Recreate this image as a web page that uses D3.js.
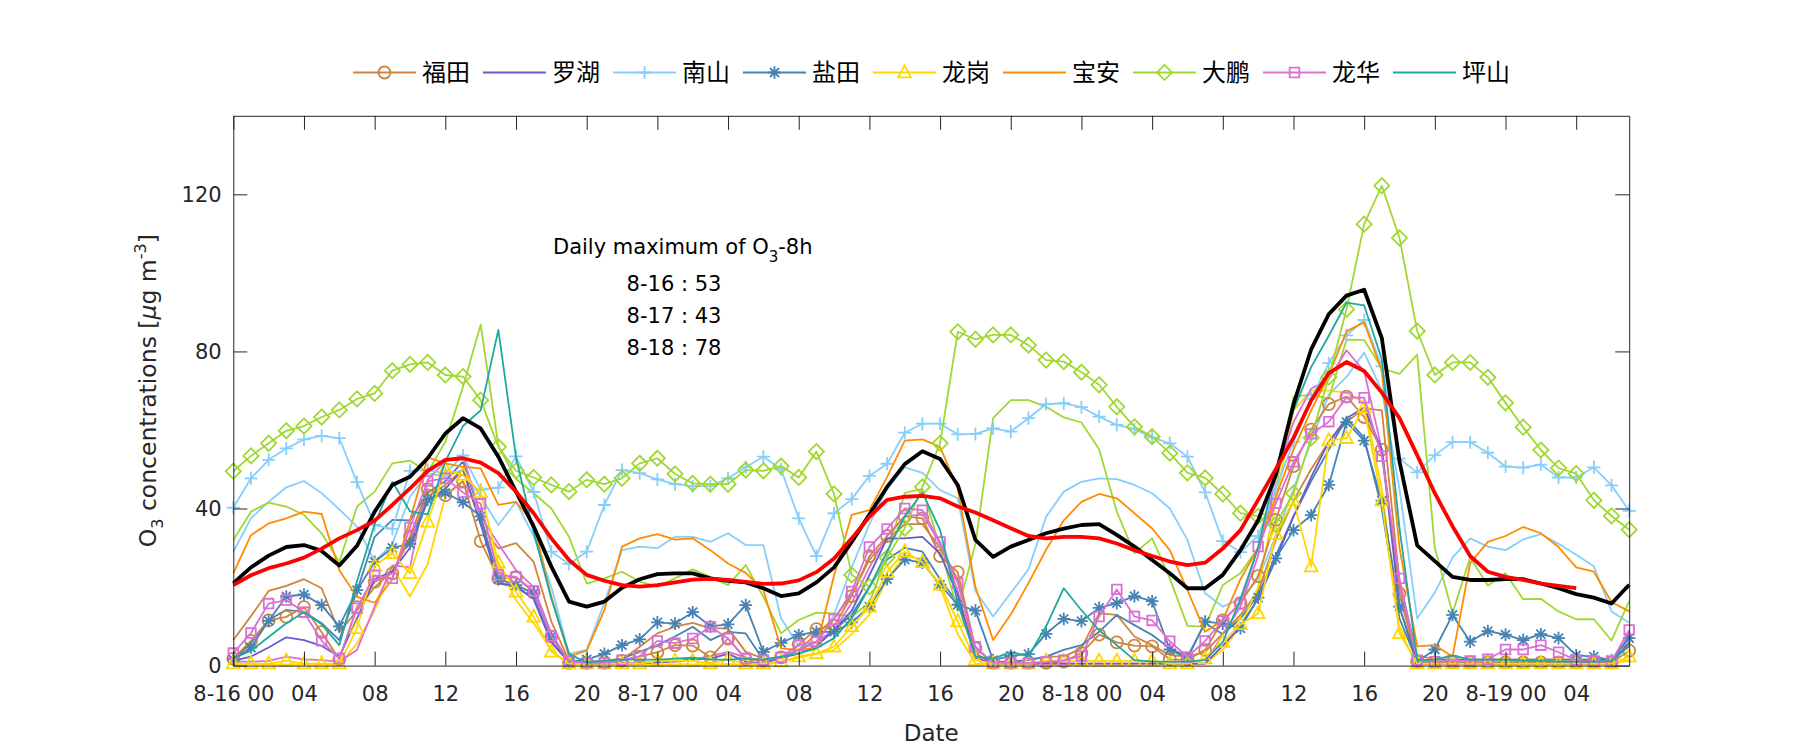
<!DOCTYPE html>
<html><head><meta charset="utf-8">
<script src="https://cdn.jsdelivr.net/npm/d3@7"></script>
<style>body{margin:0;background:#fff}svg{display:block}</style>
</head><body><svg id="c" width="1800" height="750"></svg>
<script>
// ---- data (hourly, 8-16 00:00 .. 8-19 07:00) ----
const hours = d3.range(80);
const tickHours = [0,4,8,12,16,20,24,28,32,36,40,44,48,52,56,60,64,68,72,76];
const tickLabels = ["8-16 00","04","08","12","16","20","8-17 00","04","08","12","16","20","8-18 00","04","08","12","16","20","8-19 00","04"];
const yTicks = [0,40,80,120];
const stationNames = ["福田","罗湖","南山","盐田","龙岗","宝安","大鹏","龙华","坪山"];

const futianA = [1.8,6.3,11.5,12.4,14.9,8.5,1.6,14.9,21.3,23.5,32.9,44.9,43.4,47.0,31.7,22.2,22.5,18.7,7.4,0.7,0.7,
 0.7,1.2,2.3,3.4,5.2,5.1,2.1,6.9,1.6,1.2,2.1,5.4,9.3,10.1,17.7,27.9,33.0,38.0,37.5,27.9,23.8,
 4.4,0.7,0.7,0.7,0.7,1.0,3.2,7.9,5.9,5.1,4.9,1.6,1.5,4.0,11.5,15.9,
 22.8,37.1,50.8,60.1,66.6,68.5,63.3,55.0,18.3,1.0,0.8,0.8,0.8,0.8,0.8,0.8,0.8,0.8,0.8,0.8,0.8,3.8];
const futianB = [6.5,12.6,19,20.3,22,19.7,8.5,14,20,24,32,43,46,50,36,29.8,31.2,26.4,11.2,1.2,0.8,
 1.0,1.5,4.8,8.2,9.9,10.9,9.5,9.5,3.5,1.8,2,4,8,12,18,27,32,36,36,30,22,
 2.7,1.0,1.0,1.4,2.3,2.3,4.4,13.3,12.9,7.4,5.2,2.7,2.3,3.5,8.2,12.9,
 18.8,32,42,50,57,62,65.5,65,21.3,2.7,1.5,1.5,1.5,1.5,1.5,1.5,1.5,1.5,1.5,1.5,1.5,5.4];
const luohu = [1.2,2.3,4.6,7.2,6.5,5.0,2.3,12,22,24,30,42,45,50,36,21,20.3,17,6,0.8,0.5,
 0.5,0.5,0.5,0.8,1,1.5,1.8,3,1,0.5,2,3,5,9,14,23,32.4,32.4,32.8,28.5,18,
 2,0.5,0.5,0.5,0.5,0.5,0.5,0.5,0.5,0.5,0.5,0.5,0.5,0.5,5,10,
 17,27,38,48,57,63,65.7,55,15,0.5,0.5,0.5,0.5,0.5,0.5,0.5,0.5,0.5,0.5,0.5,0.5,6];
const nanshanA = [40.2,47.7,52.4,55.3,57.6,58.5,57.9,46.7,35.8,34.8,49.6,49.8,49.0,53.5,44.8,45.3,53.3,44.2,29.0,25.9,29.0,
 40.9,49.8,49.0,47.4,46.2,45.7,45.7,47.7,50.5,53.2,50.0,37.5,27.9,38.8,42.4,48.3,51.4,59.3,61.6,61.6,58.9,
 59.0,60.4,59.6,63.0,66.6,66.8,65.8,63.4,61.3,60.2,58.1,56.6,53.2,44.1,31.7,28.9,
 33,45,57,68,77,84.1,88.0,76.2,52.7,49.2,53.6,56.9,56.9,54.2,50.7,50.4,51.2,47.9,47.9,50.5,45.9,39.4];
const nanshanB = [29.0,37.5,41.7,45.4,47.0,43.9,39.8,35.4,26.5,31,43,49,48,50,43,35.8,41.7,33,20,3,4,
 16,29.4,30.3,29.9,32.8,32.8,31.5,33.7,30.7,30.7,12,5,5,13,25,36,45,50.5,49.1,44.7,42.6,
 19.0,12.5,18.5,24.5,37.9,44.3,46.8,47.7,47.5,46.0,43.9,40.0,32.0,18.4,15.0,17,
 22,33,45,57,69,73.5,79.7,70,45,12.0,18.6,27.5,32.4,30.3,29.4,32.1,33.5,31.0,28.2,25.3,13.8,10.9];
const yantianA = [1.6,4.6,11.4,17.6,18.1,15.4,10.0,19.2,26.4,30.0,31.0,42.2,44.0,41.6,38,22,20.5,18.4,7.4,0.8,1.6,
 3.0,5.2,6.7,11.0,10.7,13.6,10,10.5,15.4,3.5,5.8,7.8,8.6,8.6,11,15,22,27.0,26.2,20.6,15.5,
 14.0,1.4,2.5,2.9,8.1,11.9,11.3,14.7,15.9,17.7,16.4,4.1,1.8,11.2,10.7,9.5,
 17.3,27.3,34.5,38.3,46.0,62.0,57.3,42,15,1.0,4.1,12.9,6.1,8.8,7.9,6.5,8.0,7.0,2.6,2.3,1.4,7.0];
const yantianB = [1.5,5.7,11.6,14.2,13.7,10.8,6.5,19,32.8,37.1,37.0,44,47,52,38,21,20,17,6,1,1,
 1.2,1.8,3.5,5.2,7.4,9.9,6.5,8.6,8.2,1.4,2,4,6,9,13,20,27,30,29,22,16,
 3,0.7,1.0,1.4,2.3,4.0,5.2,8.6,12.9,10.3,7.8,4.4,2.3,10.8,8,12,
 18,28,38,47,55,63,58,40,12,1,1.5,1.5,1.5,1.5,1.5,1.5,1.5,1.5,1.5,1.5,1.5,5];
const longgangA = [0.5,0.5,0.5,1.2,0.5,0.5,0.5,9.5,25.4,28.6,23.5,36.6,50,48.5,44.1,26.2,18.8,12.4,3.5,0.5,0.5,
 0.5,0.5,0.5,1.2,1.2,1.2,0.5,1.5,0.5,0.5,1.0,2.3,3.1,4.8,10,15,23.8,29.0,26.3,20.6,11.2,
 1.4,0.5,0.5,0.5,1.2,1.2,1.2,1.2,1.2,1.2,1.2,0.5,0.5,1.8,6,10.5,
 13.3,33.5,42,25.2,57.3,57.9,65.7,42,8.2,0.5,0.5,0.5,0.5,0.5,0.5,0.5,0.5,0.5,0.5,0.5,0.5,2.3];
const longgangB = [0.3,0.3,0.3,0.3,0.3,0.3,0.3,5.6,14.1,25.2,17.6,25.8,43.2,46.8,39.6,25.2,16.7,10.8,4,0.3,0.3,
 0.3,0.3,0.3,0.3,0.3,0.3,0.3,0.3,0.3,0.3,0.8,2,3,4,8,13,22,28,27,20,8,
 0.5,0.3,0.3,0.3,0.3,0.3,0.3,0.3,0.3,0.3,0.3,0.3,0.3,0.5,4,10,
 20,42,65,70,70,69.5,67,45,9,0.3,0.3,0.3,0.3,0.3,0.3,0.3,0.3,0.3,0.3,0.3,0.3,1.5];
const baoan = [23.5,33.2,36.2,37.5,39.2,38.6,24.3,17.5,16,22,37,53.0,51.5,50.6,50.2,40.9,41.7,36.2,17.5,2.3,3.8,
 14.1,30.3,32.4,33.5,32.1,32.4,29.4,26.0,23.6,19.2,4.4,4.0,4.5,23,38.4,39.6,48,57.3,57.6,55.7,45,
 20,6.5,13,21,29.5,37,41.7,43.7,42.6,38.8,34.9,29.4,19.2,8.6,11.6,22,
 30,43,55,65,74,85.1,87.4,75,30,4.9,5.2,2.3,26.1,31.5,33.0,35.3,33.7,30.2,25.0,23.9,16.2,13.8];
const dapengA = [49.5,53.4,56.6,59.8,61.0,63.3,65.1,67.9,69.3,75.1,76.7,77.2,74.0,73.6,67.6,55.7,49.6,47.9,46.0,44.3,47.3,
 46.2,47.7,51.5,52.8,48.8,46.4,46.2,46.2,49.8,49.6,50.8,47.9,54.5,43.7,23.1,20.1,27.5,35.0,45.5,56.6,85.0,
 83.1,84.2,84.2,81.6,77.8,77.4,74.7,71.5,65.9,60.8,58.3,54.1,49.1,47.8,43.7,38.8,
 38.0,36,43.9,58,73.5,90.7,112.4,122.2,108.9,85.2,74.0,77.2,77.2,73.4,66.9,60.7,54.9,50.3,48.9,42.1,38.1,34.6];
const dapengB = [32.0,39.2,41.5,40.5,38.4,33.7,26.4,40.5,44.3,51.5,52.2,49.2,57,71,86.8,56,47.5,43.9,40.0,32.8,20.9,
 22.2,23.9,21.4,20.1,22.2,24.5,22.6,20.5,25.6,17.5,8.2,11.6,13.5,13.3,12.5,16,28,44,45,30,14,
 31,63,67.6,67.6,65.9,63.2,61.9,55.1,39.2,28.6,32.4,22.2,10.1,9.9,20.5,23.5,
 30,45,68.5,69,68,83.0,82.9,75.7,74.3,79.2,30,13.4,27.5,20.4,23.5,16.9,17.0,13.8,11.8,11.8,6.4,16.4];
const longhuaA = [3.2,8.3,15.8,16.7,13.6,6.3,1.8,14.6,23.0,22.2,35.2,47.0,47.7,44.1,41.2,23.1,22.6,19.0,7.5,1.2,0.7,
 0.7,1.4,2.4,6.3,5.7,6.9,9.9,6.9,1.8,1.4,2.1,5.2,6.1,11.8,18.9,30.2,34.8,40.0,39.6,31.5,21,
 4.8,0.7,0.7,0.7,0.9,1.4,2.4,12.5,19.4,12.5,11.5,6.2,2.2,6.3,11.4,15.8,
 30.3,41.3,51.9,59,62.1,68.3,68.2,53.3,22.2,1.4,1.0,1.2,1.2,1.6,4.1,4.1,5.2,3.4,1.4,1.1,1.1,9.1];
const longhuaB = [1.0,1.0,1.2,2.3,1.6,1.4,1.0,4,15,25.5,25,47.3,52,53.5,38,31,24.3,20,8.2,1.0,0.5,
 0.5,0.7,0.7,1.0,1.2,1.5,2.4,3.5,2.1,1.0,2,4,6,9,16,25,33,38,38.5,31,19,
 2,0.5,0.5,0.5,0.5,0.5,0.5,0.5,0.5,0.5,0.5,0.5,0.5,0.5,8,15,
 28,48,62,70.5,73,80.3,75,55,20,1.0,0.8,0.8,0.8,0.8,0.8,0.8,0.8,0.8,0.8,0.8,0.8,8];
const pingshan = [1.8,3.8,7.3,10.8,13.6,10.5,5.2,21.5,36,46.8,39.3,38.5,52,61,65,85.5,53,34,17,3,0.8,
 1.2,1.5,1.5,1.5,1.8,2,1.5,1.5,1.8,1.5,2.3,3.1,4.4,7,12,20,29,38,44.1,34.5,16,
 2.3,1.7,3.5,2.4,10,19.7,14.1,9.0,5.2,1.4,1,1,1,1.4,6,17,
 30,50,65,76,84,92.4,91.7,78,35,1.4,1.5,2.6,1.5,1.5,1.5,1.2,1.2,1.0,1.0,1.0,1.2,5];
const cityMean = [21.0,25.0,28.0,30.2,30.7,29.2,25.5,30.5,39.2,46.0,48.1,52.8,59.1,63.0,60.4,53.2,44.3,35.4,25.2,16.3,15.0,
 16.3,19.8,22.0,23.3,23.5,23.5,22.2,21.6,21.2,19.7,17.7,18.4,21.2,25.0,31.5,38.5,45.5,51.3,54.6,52.6,46.0,
 32.0,27.7,30.3,32.0,33.7,34.9,35.8,36.0,33.3,30.3,26.9,23.5,19.7,19.7,23.1,29.4,
 37,48.5,66.5,80.5,89.5,94.2,95.7,83.4,52,30.6,26.6,22.6,21.8,21.8,22.0,22.0,20.9,19.7,18.2,17.3,15.8,20.6];
const mean8h = [20.5,23.0,24.8,26.0,27.5,29.8,32.4,34.5,36.9,40.9,45.1,49.6,52.4,52.8,51.7,49.0,44.3,38.8,32.4,26.9,23.1,
 21.6,20.5,20.1,20.5,21.2,21.9,22.1,21.8,21.3,20.8,20.9,21.7,23.8,27.3,32.4,37.9,42.2,43.0,43.2,42.6,40.5,
 39,37,35,33,32.4,32.8,32.8,32.4,31.1,29.4,27.9,26.5,25.6,26.2,29.8,34.5,
 42.2,50,58,67.5,74.5,77.3,75,69.5,63,53.6,43.9,35.5,27.9,23.9,22.6,21.8,20.9,20.3,19.7,null,null,null];
const annoTitle = "Daily maximum of O";
const annoLines = ["8-16 : 53","8-17 : 43","8-18 : 78"];

// ---- drawing ----
const svg = d3.select("#c");
const FONT = "'DejaVu Sans', sans-serif";
const AX = "#262626";
const x = d3.scaleLinear().domain([0,79]).range([233.3,1629.2]);
const y = d3.scaleLinear().domain([0,140]).range([665.6,115.8]);

const C = {ft:"#cd853f", lh:"#6a5acd", ns:"#87cefa", yt:"#4682b4", lg:"#ffd700", ba:"#ff8c00", dp:"#a0d832", lhua:"#da70d6", ps:"#1fa8a0"};
const M = {
  circle: "M6,0A6,6 0 1,1 -6,0A6,6 0 1,1 6,0Z",
  plus: "M-6.5,0H6.5M0,-6.5V6.5",
  star: "M-6.3,0H6.3M0,-6.3V6.3M-4.5,-4.5L4.5,4.5M-4.5,4.5L4.5,-4.5",
  tri: "M0,-7.2L6.4,4.8L-6.4,4.8Z",
  diamond: "M0,-7.6L7.6,0L0,7.6L-7.6,0Z",
  square: "M-4.8,-4.8H4.8V4.8H-4.8Z"
};

// draw order: unlabeled plain lines, labeled series, mean lines
const series = [
  {data:futianB, color:C.ft}, {data:nanshanB, color:C.ns}, {data:yantianB, color:C.yt},
  {data:longgangB, color:C.lg}, {data:dapengB, color:C.dp}, {data:longhuaB, color:C.lhua},
  {data:futianA, color:C.ft, marker:"circle"}, {data:luohu, color:C.lh},
  {data:nanshanA, color:C.ns, marker:"plus"}, {data:yantianA, color:C.yt, marker:"star"},
  {data:longgangA, color:C.lg, marker:"tri"}, {data:baoan, color:C.ba},
  {data:dapengA, color:C.dp, marker:"diamond"}, {data:longhuaA, color:C.lhua, marker:"square"},
  {data:pingshan, color:C.ps},
  {data:cityMean, color:"#000", width:3.8},
  {data:mean8h, color:"#ff0000", width:3.8}
];
const legendItems = [
  {color:C.ft, marker:"circle"}, {color:C.lh}, {color:C.ns, marker:"plus"}, {color:C.yt, marker:"star"},
  {color:C.lg, marker:"tri"}, {color:C.ba}, {color:C.dp, marker:"diamond"}, {color:C.lhua, marker:"square"}, {color:C.ps}
];

const line = d3.line().defined(d => d != null).x((d,i) => x(hours[i])).y(d => y(d));
const gData = svg.append("g");
series.forEach(s => {
  const g = gData.append("g");
  g.append("path").attr("d", line(s.data)).attr("fill","none").attr("stroke", s.color)
    .attr("stroke-width", s.width || 1.8).attr("stroke-linejoin","round");
  if (s.marker) {
    g.selectAll("path.m").data(s.data.map((v,i)=>[hours[i],v]).filter(p=>p[1]!=null)).join("path")
      .attr("class","m").attr("d", M[s.marker])
      .attr("transform", p => `translate(${x(p[0])},${y(p[1])})`)
      .attr("fill","none").attr("stroke", s.color).attr("stroke-width",1.8);
  }
});

// axes (MATLAB box with inward ticks)
function styleAxis(g){
  g.selectAll("path.domain").attr("stroke",AX).attr("stroke-width",1);
  g.selectAll(".tick line").attr("stroke",AX).attr("stroke-width",1);
  g.selectAll("text").attr("fill",AX).style("font-family",FONT).style("font-size","21px");
}
svg.append("g").attr("transform",`translate(0,${y(0)})`)
  .call(d3.axisBottom(x).tickValues(tickHours).tickFormat((d,i)=>tickLabels[i]).tickSizeInner(-14).tickSizeOuter(0).tickPadding(20.5))
  .call(styleAxis);
svg.append("g").attr("transform",`translate(0,${y(140)})`)
  .call(d3.axisTop(x).tickValues(tickHours).tickFormat("").tickSizeInner(-14).tickSizeOuter(0))
  .call(styleAxis);
svg.append("g").attr("transform",`translate(${x(0)},0)`)
  .call(d3.axisLeft(y).tickValues(yTicks).tickFormat(d3.format("d")).tickSizeInner(-14).tickSizeOuter(0).tickPadding(11.6))
  .call(styleAxis);
svg.append("g").attr("transform",`translate(${x(79)},0)`)
  .call(d3.axisRight(y).tickValues(yTicks).tickFormat("").tickSizeInner(-14).tickSizeOuter(0))
  .call(styleAxis);

// axis labels
svg.append("text").attr("x", (x(0)+x(79))/2).attr("y", 741).attr("text-anchor","middle")
  .style("font-family",FONT).style("font-size","23px").attr("fill",AX).text("Date");
const yl = svg.append("text").attr("transform",`translate(156,${(y(0)+y(140))/2}) rotate(-90)`)
  .attr("text-anchor","middle").style("font-family",FONT).style("font-size","23.5px").attr("fill",AX);
yl.append("tspan").text("O");
yl.append("tspan").attr("dy",7).style("font-size","16px").text("3");
yl.append("tspan").attr("dy",-7).text(" concentrations [");
yl.append("tspan").style("font-style","italic").text("μ");
yl.append("tspan").text("g m");
yl.append("tspan").attr("dy",-10).style("font-size","16px").text("-3");
yl.append("tspan").attr("dy",10).text("]");

// annotation
const an = svg.append("text").attr("x",553).attr("y",254).style("font-family",FONT).style("font-size","21px").attr("fill","#000");
an.append("tspan").text(annoTitle);
an.append("tspan").attr("dy",8).style("font-size","15px").text("3");
an.append("tspan").attr("dy",-8).text("-8h");
annoLines.forEach((t,i) => {
  svg.append("text").attr("x",674).attr("y",290.7 + i*32).attr("text-anchor","middle")
    .style("font-family",FONT).style("font-size","21px").attr("fill","#000").text(t);
});

// legend
const lg = svg.append("g");
legendItems.forEach((it,i) => {
  const x0 = 353 + 130*i, yc = 72.5;
  const g = lg.append("g");
  g.append("line").attr("x1",x0).attr("x2",x0+63).attr("y1",yc).attr("y2",yc).attr("stroke",it.color).attr("stroke-width",1.8);
  if (it.marker) g.append("path").attr("d",M[it.marker]).attr("transform",`translate(${x0+31.5},${yc})`)
      .attr("fill","none").attr("stroke",it.color).attr("stroke-width",1.8);
  g.append("text").attr("x",x0+69).attr("y",yc).attr("dy","0.36em")
    .style("font-family","'Noto Sans CJK SC', sans-serif").style("font-size","24px").attr("fill","#000").text(stationNames[i]);
});
</script></body></html>
